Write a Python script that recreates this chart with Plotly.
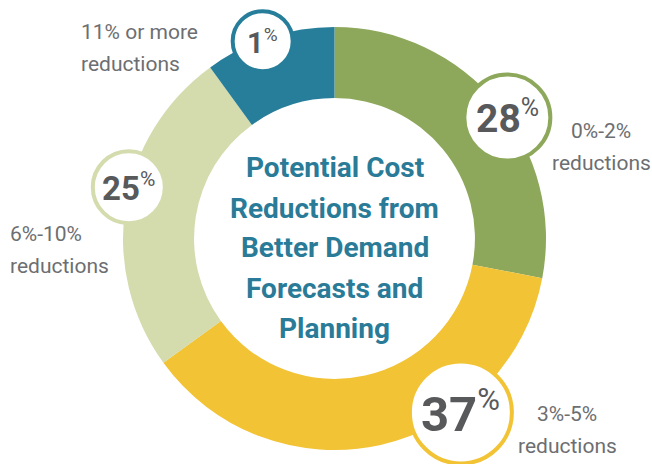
import math

import plotly.graph_objects as go

# Slice data, clockwise from 12 o'clock
categories = ["0%-2%<br>reductions", "3%-5%<br>reductions",
              "6%-10%<br>reductions", "11% or more<br>reductions"]
values = [28, 37, 25, 10]
badge_numbers = ["28", "37", "25", "1"]
title_lines = ["Potential Cost", "Reductions from", "Better Demand",
               "Forecasts and", "Planning"]

colors = ["#8da85b", "#f2c335", "#d4dbad", "#277e9b"]

W, H = 652, 464
CX, CY, R = 334.5, 238.5, 211.5     # donut geometry in px
HOLE = 0.664

# badge placement (angle clockwise from 12 o'clock, radius px, font px)
badge_angles = [55, 144, 284, 340]
badge_dist = [211, 215, 212, 210]
badge_radii = [43, 51, 36, 30]
badge_fonts = [39, 49, 33, 29]
pct_fonts = [25, 31, 21, 19]

# outer label placement in px: (x, first line y, xanchor)
label_pos = [(601, 131, "center"), (567, 414, "center"),
             (8, 234, "left"), (79, 32, "left")]
LINE_GAP = 32

FONT = "Roboto, Liberation Sans, sans-serif"


def px(x):
    return x / W


def py(y):
    return 1 - y / H


fig = go.Figure(go.Pie(
    values=values,
    labels=categories,
    sort=False,
    direction="clockwise",
    rotation=0,
    hole=HOLE,
    textinfo="none",
    hoverinfo="skip",
    marker=dict(colors=colors, line=dict(width=0)),
    domain=dict(x=[px(CX - R), px(CX + R)], y=[py(CY + R), py(CY - R)]),
))

for i, num in enumerate(badge_numbers):
    a = math.radians(badge_angles[i])
    bx = CX + badge_dist[i] * math.sin(a)
    by = CY - badge_dist[i] * math.cos(a)
    r = badge_radii[i]
    fig.add_shape(
        type="circle", xref="paper", yref="paper", layer="above",
        x0=px(bx - r), x1=px(bx + r), y0=py(by + r), y1=py(by - r),
        fillcolor="white", line=dict(color=colors[i], width=4),
    )
    fig.add_annotation(
        x=px(bx), y=py(by), xref="paper", yref="paper", showarrow=False,
        xanchor="center", yanchor="middle",
        text=f"<b>{num}</b><sup><span style='font-size:{pct_fonts[i]}px'>%</span></sup>",
        font=dict(family=FONT, size=badge_fonts[i], color="#58595b"),
    )

for cat, (lx, ly, xa) in zip(categories, label_pos):
    for j, part in enumerate(cat.split("<br>")):
        fig.add_annotation(
            x=px(lx), y=py(ly + LINE_GAP * j), xref="paper", yref="paper",
            showarrow=False, xanchor=xa, yanchor="middle", text=part,
            font=dict(family=FONT, size=21, color="#6d6e71"),
        )

for k, line in enumerate(title_lines):
    fig.add_annotation(
        x=px(CX), y=py(168 + 40 * k), xref="paper", yref="paper",
        showarrow=False, xanchor="center", yanchor="middle",
        text=f"<b>{line}</b>",
        font=dict(family=FONT, size=28, color="#2a7b98"),
    )

fig.update_layout(
    width=W, height=H,
    margin=dict(l=0, r=0, t=0, b=0),
    paper_bgcolor="white",
    showlegend=False,
)

# page body has a default 8px margin; drop it so the figure sits at 0,0
fig.write_html("out.html", config={"displayModeBar": False},
               post_script="document.body.style.margin = '0';")
